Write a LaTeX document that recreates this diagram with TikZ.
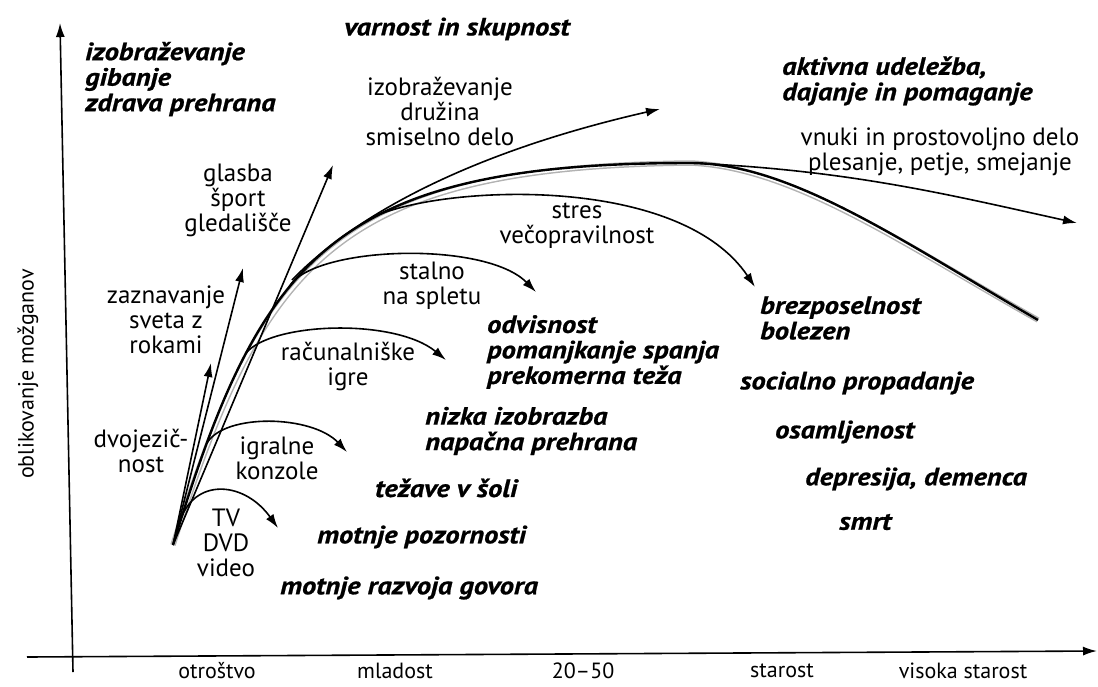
\documentclass[tikz,border=0pt]{standalone}
\usepackage{fontspec}
\setmainfont{PT Sans}
\newfontfamily\posledfont[FakeStretch=1.14, FakeBold=0.8]{PT Sans}
\usetikzlibrary{arrows.meta}

\begin{document}
\begin{tikzpicture}[
    x=1pt, y=-1pt,
    pojem/.style={align=center, inner sep=0pt, font=\fontsize{25}{25}\selectfont},
    posled/.style={align=left, anchor=west, inner sep=0pt, font=\posledfont\fontsize{25}{25.5}\selectfont\bfseries\itshape},
    doba/.style={inner sep=0pt, font=\fontsize{22}{25}\selectfont},
    os/.style={-{Latex[length=14pt, width=9pt]}, line width=1.6pt},
    pot/.style={-{Latex[length=14pt, width=9pt]}, line width=1.6pt},
    glavna/.style={line width=2.4pt},
    senca/.style={draw=gray!60, double=white, double distance=2.5pt, line width=1.5pt},
]
    \useasboundingbox (0,0) rectangle (1098,686);

    % osi
    \coordinate (yA) at (73,672);
    \coordinate (yB) at (60,23);
    \coordinate (xA) at (27,657);
    \coordinate (xB) at (1097,651);
    \draw[os] (yA) -- (yB);
    \draw[os] (xA) -- (xB);
    \node[doba, rotate=90] (yos) at (28,374) {oblikovanje možganov};
    \node[doba] (d1) at (217,671) {otroštvo};
    \node[doba] (d2) at (395,671) {mladost};
    \node[doba] (d3) at (583,671) {20–50};
    \node[doba] (d4) at (782,671) {starost};
    \node[doba] (d5) at (963,671) {visoka starost};

    % glavna krivulja
    \coordinate (O) at (173,545);
    \coordinate (vrh) at (690,163);
    \coordinate (konec) at (1038,320);
    \draw[senca, xshift=3pt, yshift=-4pt] (O) .. controls (260,260) and (330,163) .. (vrh) .. controls (790,163) and (900,240) .. (konec);
    \draw[glavna] (O) .. controls (260,260) and (330,163) .. (vrh) .. controls (790,163) and (900,240) .. (konec);

    % odcepi
    \coordinate (bTV) at (182,516);
    \coordinate (bIgr) at (207,443);
    \coordinate (bRac) at (246,353);
    \coordinate (bSpl) at (289,287);
    \coordinate (bIzo) at (292,280);
    \coordinate (bStr) at (378,215);
    \coordinate (tTV) at (278,528);
    \coordinate (tIgr) at (347,452);
    \coordinate (tRac) at (446,360);
    \coordinate (tSpl) at (536,292);
    \coordinate (tStr) at (755,287);
    \coordinate (tIzo) at (660,109);
    \coordinate (tVnu) at (1077,223);
    \coordinate (tRok) at (211,363);
    \coordinate (tSve) at (243,268);
    \coordinate (tGla) at (333,165);

    \draw[pot] (bTV) .. controls (198,478) and (245,482) .. (tTV);
    \draw[pot] (bIgr) .. controls (225,413) and (312,415) .. (tIgr);
    \draw[pot] (bRac) .. controls (272,322) and (395,318) .. (tRac);
    \draw[pot] (bSpl) .. controls (312,246) and (485,240) .. (tSpl);
    \draw[pot] (bStr) .. controls (450,185) and (680,175) .. (tStr);
    \draw[pot] (bIzo) .. controls (360,210) and (480,150) .. (tIzo);
    \draw[pot] (vrh) .. controls (850,170) and (950,195) .. (tVnu);
    \foreach \t in {tRok,tSve,tGla} \draw[pot] (O) -- (\t);

    % dejavnosti
    \node[pojem] (izo) at (440,111) {izobraževanje\\družina\\smiselno delo};
    \node[pojem] (gla) at (238,200) {glasba\\šport\\gledališče};
    \node[pojem] (zaz) at (166,320) {zaznavanje\\sveta z\\rokami};
    \node[pojem] (dvo) at (141,451) {dvojezič-\\nost};
    \node[pojem] (rac) at (348,366) {računalniške\\igre};
    \node[pojem] (igr) at (277,458) {igralne\\konzole};
    \node[pojem] (tv) at (226,543) {TV\\DVD\\video};
    \node[pojem] (spl) at (432,286) {stalno\\na spletu};
    \node[pojem] (str) at (577,226) {stres\\večopravilnost};
    \node[pojem] (vnu) at (940,152) {vnuki in prostovoljno delo\\plesanje, petje, smejanje};

    % posledice
    \node[posled] (zdr) at (85,79) {izobraževanje\\gibanje\\zdrava prehrana};
    \node[posled, anchor=center] (var) at (457,29) {varnost in skupnost};
    \node[posled] (akt) at (782,81) {aktivna udeležba,\\dajanje in pomaganje};
    \node[posled] (bre) at (760,318) {brezposelnost\\bolezen};
    \node[posled] (odv) at (487,352) {odvisnost\\pomanjkanje spanja\\prekomerna teža};
    \node[posled] (soc) at (740,383) {socialno propadanje};
    \node[posled] (osa) at (775,432) {osamljenost};
    \node[posled] (dep) at (805,479) {depresija, demenca};
    \node[posled] (smr) at (839,522) {smrt};
    \node[posled] (niz) at (425,431) {nizka izobrazba\\napačna prehrana};
    \node[posled] (tez) at (375,488) {težave v šoli};
    \node[posled] (poz) at (317,537) {motnje pozornosti};
    \node[posled] (gov) at (280,588) {motnje razvoja govora};
\end{tikzpicture}
\end{document}
